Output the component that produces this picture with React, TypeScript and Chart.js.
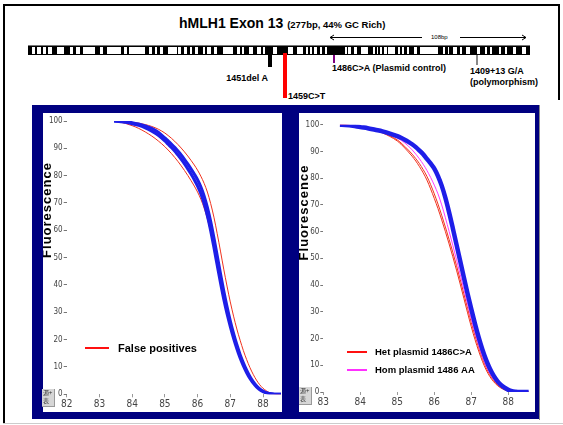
import React, { useEffect, useRef } from 'react';
import { Chart, registerables } from 'chart.js';

Chart.register(...registerables);

// ---------- data ----------
const temps = [83.45, 83.6, 83.8, 84.0, 84.2, 84.4, 84.6, 84.8, 85.0, 85.1, 85.2, 85.3, 85.4, 85.5, 85.6, 85.7, 85.8, 85.9, 86.0, 86.1, 86.2, 86.3, 86.4, 86.5, 86.6, 86.7, 86.8, 86.9, 87.0, 87.1, 87.2, 87.3, 87.4, 87.5, 87.6, 87.7, 87.8, 87.9, 88.0, 88.1, 88.2, 88.3, 88.4, 88.55];

// left panel (false positives)
const leftBlueA = [100, 99.9, 99.7, 99.4, 98.9, 98.2, 97.3, 95.9, 93.8, 92.7, 91.6, 90.4, 89.0, 87.6, 86.0, 84.3, 82.5, 80.6, 78.5, 75.9, 72.6, 68.4, 63.3, 57.3, 50.8, 44.2, 37.9, 32.1, 26.9, 22.3, 18.2, 14.6, 11.5, 8.8, 6.5, 4.6, 3.1, 2.0, 1.2, 0.6, 0.3, 0.1, 0, 0];
const leftBlueB = [100, 99.8, 99.5, 99.0, 98.4, 97.5, 96.3, 94.8, 92.7, 91.5, 90.3, 89.0, 87.5, 86.0, 84.3, 82.5, 80.6, 78.5, 76.2, 73.4, 69.8, 65.3, 59.9, 53.7, 47.2, 40.8, 34.8, 29.5, 24.8, 20.5, 16.7, 13.3, 10.4, 7.9, 5.8, 4.1, 2.7, 1.7, 1.0, 0.5, 0.2, 0.1, 0, 0];
const leftRedA = [100, 99.9, 99.7, 99.5, 99.2, 98.7, 98.0, 97.0, 95.6, 94.7, 93.7, 92.6, 91.4, 90.1, 88.7, 87.2, 85.6, 83.9, 82.0, 79.8, 77.2, 74.0, 69.8, 64.8, 58.8, 52.4, 45.8, 39.6, 33.8, 28.6, 23.9, 19.8, 16.0, 12.7, 9.8, 7.3, 5.2, 3.5, 2.2, 1.3, 0.6, 0.3, 0.1, 0];
const leftRedB = [100, 99.7, 99.1, 98.3, 97.3, 96.0, 94.5, 92.7, 90.6, 89.4, 88.1, 86.7, 85.2, 83.6, 81.9, 80.1, 78.2, 76.2, 74.0, 71.4, 68.2, 64.2, 59.3, 53.5, 47.2, 40.9, 35.0, 29.7, 25.0, 20.7, 16.9, 13.5, 10.6, 8.1, 6.0, 4.2, 2.8, 1.8, 1.0, 0.5, 0.2, 0.1, 0, 0];

// right panel (plasmid controls)
const rightBlue = [100, 99.9, 99.6, 99.1, 98.7, 98.1, 97.5, 96.7, 95.7, 95.1, 94.4, 93.6, 92.7, 91.6, 90.3, 88.9, 87.2, 85.5, 83.6, 80.8, 77.2, 72.6, 67.2, 61.3, 55.2, 49.0, 42.8, 36.8, 31.0, 25.5, 20.4, 15.9, 12.0, 8.8, 6.2, 4.2, 2.7, 1.6, 0.8, 0.3, 0.1, 0, 0, 0];
const rightHetA = [100, 99.9, 99.6, 99.1, 98.6, 97.9, 96.9, 95.6, 93.9, 92.7, 91.3, 89.8, 88.2, 86.4, 84.3, 82.0, 79.3, 76.0, 72.4, 68.6, 64.4, 60.0, 55.4, 50.6, 45.6, 40.4, 35.0, 29.6, 24.4, 19.6, 15.3, 11.5, 8.3, 5.8, 3.9, 2.5, 1.5, 0.8, 0.4, 0.2, 0.1, 0, 0, 0];
const rightHetB = [100, 99.9, 99.6, 99.1, 98.6, 98.0, 97.1, 95.9, 94.3, 93.2, 91.9, 90.5, 89.0, 87.3, 85.4, 83.2, 80.7, 77.6, 74.1, 70.3, 66.1, 61.7, 57.1, 52.3, 47.3, 42.1, 36.7, 31.3, 26.0, 21.1, 16.6, 12.6, 9.2, 6.5, 4.4, 2.9, 1.8, 1.0, 0.5, 0.2, 0.1, 0, 0, 0];
const rightHom = [100, 99.9, 99.6, 99.1, 98.7, 98.1, 97.4, 96.4, 95.0, 94.2, 93.2, 92.0, 90.6, 89.0, 87.2, 85.2, 82.9, 80.3, 77.4, 74.1, 70.0, 65.2, 60.1, 54.9, 49.5, 44.0, 38.4, 32.8, 27.3, 22.2, 17.5, 13.3, 9.8, 7.0, 4.8, 3.2, 2.0, 1.1, 0.5, 0.2, 0.1, 0, 0, 0];

const yTicks = [0, 10, 20, 30, 40, 50, 60, 70, 80, 90, 100];
const leftXTicks = [82, 83, 84, 85, 86, 87, 88];
const rightXTicks = [83, 84, 85, 86, 87, 88];

const leftLegend = ['False positives'];
const rightLegend = ['Het plasmid 1486C>A', 'Hom plasmid 1486 AA'];

// exon bar white gaps (page x ranges)
const exonGaps: [number, number][] = [
  [32, 35], [37, 41], [43, 46], [48, 52], [57, 64], [70, 73], [76, 80], [83, 95], [100, 103], [107, 121],
  [124, 127], [129, 145], [149, 152], [155, 157], [160, 163], [168, 177], [178, 181], [184, 187], [190, 192],
  [195, 198], [203, 205], [207, 211], [214, 217], [223, 233], [237, 240], [242, 244], [249, 253], [257, 261],
  [263, 265], [273, 277], [288, 293], [297, 303], [306, 308], [310, 312], [314, 317], [320, 322], [325, 327],
  [345, 347], [348, 351], [354, 357], [361, 368], [373, 375], [377, 378], [380, 382], [384, 387], [388, 395],
  [398, 400], [402, 404], [407, 409], [414, 417], [420, 438], [443, 445], [448, 449], [453, 457], [460, 462],
  [466, 470], [477, 480], [485, 487], [490, 492], [499, 501], [505, 507], [513, 516], [522, 526],
];

// ---------- styles ----------
const SANS = '"Liberation Sans", Arial, Helvetica, sans-serif';
const NARROW = '"Liberation Sans Narrow", "Arial Narrow", "DejaVu Sans Condensed", sans-serif';
const BLUE = '#1e1ee8';
const RED = '#f0321e';
const MAGENTA = '#ff3cff';

type Series = { values: number[]; color: string; width: number };
type PanelSpec = {
  w: number; h: number;
  series: Series[];
  xMin: number; xMax: number; xTicks: number[];
  yAxisWidth: number; xAxisHeight: number; padTop: number; padRight: number;
  legend: string[]; legendColors: string[]; legendX: number; legendY: number; legendLen: number;
  legendTextX: number; legendGap: number; legendFont: string;
  titleX: number; titleY: number;
};

function MeltPanel({ spec }: { spec: PanelSpec }) {
  const ref = useRef<HTMLCanvasElement>(null);
  useEffect(() => {
    const overlay = {
      id: 'overlay',
      afterDraw(chart: any) {
        const ctx = chart.ctx as CanvasRenderingContext2D;
        ctx.save();
        ctx.translate(spec.titleX, spec.titleY);
        ctx.rotate(-Math.PI / 2);
        ctx.font = `bold 13px ${SANS}`;
        (ctx as any).letterSpacing = '1px';
        ctx.fillStyle = '#000';
        ctx.textAlign = 'center';
        ctx.textBaseline = 'middle';
        ctx.fillText('Fluorescence', 0, 0);
        ctx.restore();

        ctx.save();
        spec.legend.forEach((text, i) => {
          const y = spec.legendY + i * spec.legendGap;
          ctx.strokeStyle = spec.legendColors[i];
          ctx.lineWidth = 2;
          ctx.beginPath();
          ctx.moveTo(spec.legendX, y);
          ctx.lineTo(spec.legendX + spec.legendLen, y);
          ctx.stroke();
          ctx.fillStyle = '#000';
          ctx.font = spec.legendFont;
          ctx.textAlign = 'left';
          ctx.textBaseline = 'middle';
          ctx.fillText(text, spec.legendTextX, y + 0.5);
        });
        ctx.restore();
      },
    };
    const chart = new Chart(ref.current as HTMLCanvasElement, {
      type: 'line',
      data: {
        datasets: spec.series.map((s) => ({
          data: temps.map((t, i) => ({ x: t, y: s.values[i] })),
          borderColor: s.color,
          borderWidth: s.width,
          pointRadius: 0,
          pointHoverRadius: 0,
          cubicInterpolationMode: 'monotone' as const,
          fill: false,
        })),
      },
      options: {
        animation: false,
        responsive: false,
        devicePixelRatio: 1,
        events: [],
        layout: { padding: { top: spec.padTop, right: spec.padRight, left: 0, bottom: 0 } },
        plugins: { legend: { display: false }, tooltip: { enabled: false } },
        scales: {
          x: {
            type: 'linear',
            min: spec.xMin,
            max: spec.xMax,
            afterBuildTicks: (s: any) => { s.ticks = spec.xTicks.map((v) => ({ value: v })); },
            afterFit: (s: any) => { s.height = spec.xAxisHeight; },
            grid: { drawOnChartArea: false, drawTicks: true, tickLength: 3, color: '#999' },
            border: { display: false },
            ticks: { font: { size: 10, family: NARROW }, color: '#444', padding: 1, maxRotation: 0, autoSkip: false },
          },
          y: {
            type: 'linear',
            min: 0,
            max: 100,
            afterBuildTicks: (s: any) => { s.ticks = yTicks.map((v) => ({ value: v })); },
            afterFit: (s: any) => { s.width = spec.yAxisWidth; },
            grid: { drawOnChartArea: false, drawTicks: true, tickLength: 3, color: '#777' },
            border: { display: false },
            ticks: { font: { size: 8, family: NARROW }, color: '#444', padding: 1, autoSkip: false },
          },
        },
      },
      plugins: [overlay],
    } as any);
    return () => chart.destroy();
  }, [spec]);
  return <canvas ref={ref} width={spec.w} height={spec.h} style={{ display: 'block', width: spec.w, height: spec.h }} />;
}

const leftSpec: PanelSpec = {
  w: 239, h: 299,
  series: [
    { values: leftBlueA, color: BLUE, width: 3 },
    { values: leftBlueB, color: BLUE, width: 3 },
    { values: leftRedA, color: RED, width: 1 },
    { values: leftRedB, color: RED, width: 1 },
  ],
  xMin: 82, xMax: 88.55, xTicks: leftXTicks,
  yAxisWidth: 23.7, xAxisHeight: 17.7, padTop: 8, padRight: 1,
  legend: leftLegend, legendColors: ['#ff1010'], legendX: 42, legendY: 235, legendLen: 24,
  legendTextX: 75, legendGap: 18, legendFont: `bold 11px ${SANS}`,
  titleX: 4.5, titleY: 97,
};

const rightSpec: PanelSpec = {
  w: 236, h: 299,
  series: [
    { values: rightBlue, color: BLUE, width: 4.5 },
    { values: rightHom, color: MAGENTA, width: 1 },
    { values: rightHetA, color: RED, width: 1 },
    { values: rightHetB, color: RED, width: 1 },
  ],
  xMin: 83, xMax: 88.7, xTicks: rightXTicks,
  yAxisWidth: 24.3, xAxisHeight: 20, padTop: 11.7, padRight: 0.8,
  legend: rightLegend, legendColors: ['#ff1010', '#ff30ff'], legendX: 48, legendY: 239, legendLen: 20,
  legendTextX: 76, legendGap: 18, legendFont: `bold 9.5px ${SANS}`,
  titleX: 5, titleY: 99.5,
};

const abs = (l: number, t: number, w: number, h: number, bg: string): React.CSSProperties => ({
  position: 'absolute', left: l, top: t, width: w, height: h, background: bg,
});

function Label({ text, left, cy, right }: { text: string; left?: number; cy: number; right?: number }) {
  return (
    <div style={{
      position: 'absolute', left: left, right: right !== undefined ? 563 - right : undefined, top: cy - 6,
      height: 12, lineHeight: '12px', font: `bold 9px ${SANS}`, color: '#000', whiteSpace: 'nowrap',
    }}>{text}</div>
  );
}

function CornerButton({ left, top }: { left: number; top: number }) {
  return (
    <div style={{
      position: 'absolute', left, top, width: 13, height: 18, background: '#d6d6d6',
      borderRight: '1px solid #999', borderBottom: '1px solid #999',
      font: '6px "Noto Sans CJK SC", sans-serif', color: '#333', lineHeight: '8px', paddingLeft: 1, boxSizing: 'border-box',
    }}>
      <div>源+</div>
      <div>表</div>
    </div>
  );
}

export default function App() {
  const barLeft = 28;
  return (
    <div style={{ position: 'fixed', left: 0, top: 0, width: 563, height: 425, background: '#fff', overflow: 'hidden', fontFamily: SANS }}>
      {/* outer frame */}
      <div style={abs(3, 4, 2, 420, '#000')} />
      <div style={abs(3, 4, 557, 2, '#000')} />
      <div style={abs(558, 4, 2, 96, '#000')} />
      <div style={abs(3, 423, 560, 1, '#ccc')} />

      {/* title */}
      <div style={{ position: 'absolute', left: 179, top: 14, lineHeight: '18px', whiteSpace: 'nowrap', color: '#000' }}>
        <span style={{ font: `bold 14px ${SANS}` }}>hMLH1 Exon 13 </span>
        <span style={{ font: `bold 9.5px ${SANS}` }}>(277bp, 44% GC Rich)</span>
      </div>

      {/* 108bp arrow */}
      <svg style={{ position: 'absolute', left: 0, top: 0 }} width={563} height={60}>
        <line x1={330} y1={37.5} x2={422} y2={37.5} stroke="#000" strokeWidth={1} />
        <polyline points="334,35 330,37.5 334,40" fill="none" stroke="#000" strokeWidth={1} />
        <line x1={460} y1={37.5} x2={526} y2={37.5} stroke="#000" strokeWidth={1} />
        <polyline points="522,35 526,37.5 522,40" fill="none" stroke="#000" strokeWidth={1} />
      </svg>
      <div style={{ position: 'absolute', left: 431, top: 33, font: `6px ${SANS}`, lineHeight: '8px', color: '#000' }}>108bp</div>

      {/* exon bar */}
      <div style={{ position: 'absolute', left: barLeft, top: 45, width: 502, height: 10, background: '#000', borderTop: '1px solid #777', boxSizing: 'border-box' }}>
        {exonGaps.map(([a, b], i) => (
          <div key={i} style={{ position: 'absolute', left: a - barLeft, top: 1, width: b - a, height: 7, background: '#fff' }} />
        ))}
      </div>

      {/* variant markers */}
      <div style={abs(268, 55, 4, 12, '#000')} />
      <div style={abs(283, 53, 4, 45, '#ff0000')} />
      <div style={abs(333, 55, 2, 8, '#800080')} />
      <div style={abs(476, 55, 2, 10, '#888')} />
      <Label text="1451del A" right={268} cy={79} />
      <Label text="1459C>T" left={288} cy={97} />
      <Label text="1486C>A (Plasmid control)" left={332} cy={69} />
      <Label text="1409+13 G/A" left={470} cy={71.5} />
      <Label text="(polymorphism)" left={470} cy={83} />

      {/* navy frame */}
      <div style={abs(32, 105, 507, 314, '#000080')} />
      <div style={abs(539, 105, 1, 315, '#888')} />

      <div style={{ position: 'absolute', left: 43, top: 113, width: 239, height: 299, background: '#fff' }}>
        <MeltPanel spec={leftSpec} />
      </div>
      <div style={{ position: 'absolute', left: 299, top: 113, width: 236, height: 299, background: '#fff' }}>
        <MeltPanel spec={rightSpec} />
      </div>
      <CornerButton left={42} top={389} />
      <CornerButton left={299} top={387} />
    </div>
  );
}
